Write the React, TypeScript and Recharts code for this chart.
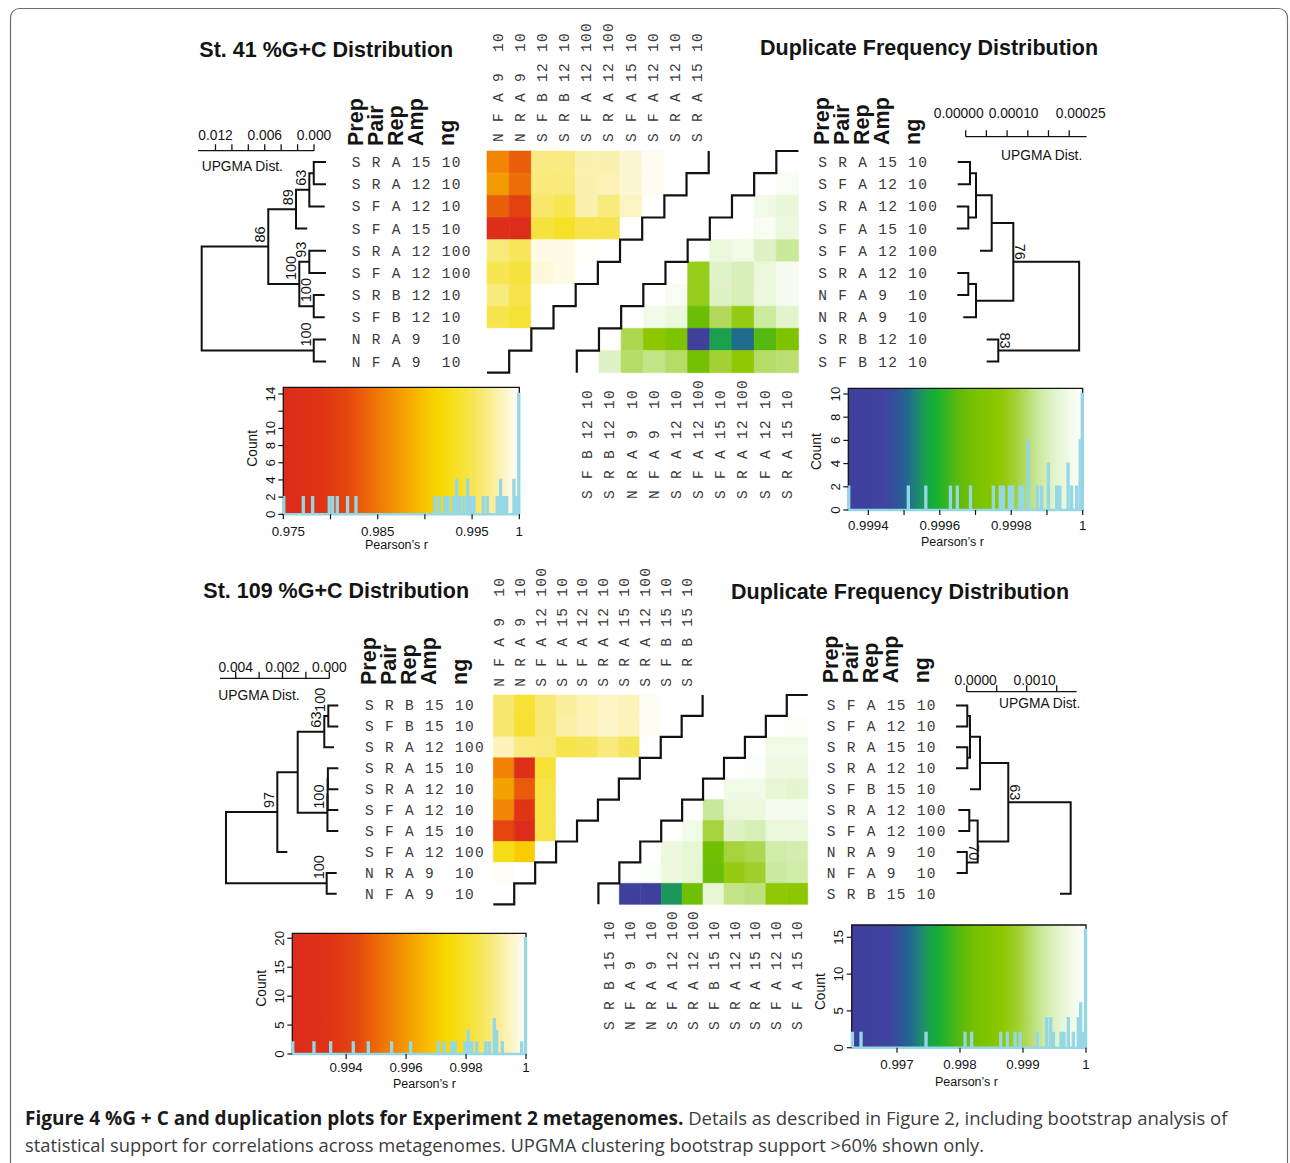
import React from 'react';
import { ComposedChart, Line, XAxis, YAxis, ReferenceArea, Scatter } from 'recharts';

const PAGE_W = 1290;
const PAGE_H = 1163;
const SANS = '"Liberation Sans", Arial, Helvetica, sans-serif';
const MONO = '"Liberation Mono", "Courier New", monospace';
const CAPTION_FONT = '"Open Sans", "Noto Sans", sans-serif';
const INK = '#141414';
const HIST_LINE = '#95d7e5';

// ---------------- colour ramps ----------------
const heatStops: [number, string][] = [
  [0, '#dc2c1c'], [0.15, '#df3216'], [0.28, '#e5480e'], [0.4, '#ef7806'], [0.5, '#f59e02'],
  [0.58, '#f8bc00'], [0.66, '#f8d800'], [0.74, '#f6e028'], [0.82, '#f7e660'], [0.89, '#faee9c'],
  [0.95, '#fdf6d0'], [1, '#ffffff'],
];
const greenStops: [number, string][] = [
  [0, '#3f3f9c'], [0.15, '#3f42a0'], [0.2, '#34509a'], [0.25, '#1f6890'], [0.29, '#1f8478'],
  [0.33, '#1aa04e'], [0.37, '#14b034'], [0.45, '#50b814'], [0.52, '#74c000'], [0.65, '#8ec800'],
  [0.72, '#a6d23c'], [0.8, '#c6e692'], [0.88, '#e2f4cc'], [1, '#ffffff'],
];

// ---------------- St. 41 %G+C ----------------
const st41GcRows = [
  ['S', 'R', 'A', '15', '10'], ['S', 'R', 'A', '12', '10'], ['S', 'F', 'A', '12', '10'], ['S', 'F', 'A', '15', '10'],
  ['S', 'R', 'A', '12', '100'], ['S', 'F', 'A', '12', '100'], ['S', 'R', 'B', '12', '10'], ['S', 'F', 'B', '12', '10'],
  ['N', 'R', 'A', '9', '10'], ['N', 'F', 'A', '9', '10'],
];
const st41GcMatrix = [
  [0.9858, 0.9833, 0.9965, 0.9965, 0.9978, 0.9978, 0.9988, 0.9996, 1, 1],
  [0.9873, 0.9843, 0.9963, 0.9963, 0.9978, 0.998, 0.9988, 0.9996, 1],
  [0.9835, 0.981, 0.9958, 0.995, 0.9978, 0.9963, 0.9983, 1],
  [0.9763, 0.975, 0.9943, 0.9935, 0.9948, 0.9948, 1],
  [0.9963, 0.9953, 0.9993, 0.9993, 0.9998, 1],
  [0.995, 0.9943, 0.999, 0.9993, 1],
  [0.9963, 0.9948, 1, 1],
  [0.9948, 0.994, 1],
  [1, 1],
  [1],
];
const st41GcTips = [-0.00146, -0.00146, -0.0013, 0.00082, -0.00146, -0.00146, -0.0013, -0.0013, -0.00146, -0.00146];
const st41GcMerges: [number, number, number, number | null][] = [
  [-1, -2, 0.00003, null], [-7, -8, 0.00003, 100], [-9, -10, 0.00003, 100], [1, -3, 0.00057, 63],
  [-5, -6, 0.00057, 93], [5, 2, 0.00179, 100], [4, -4, 0.00219, 89], [7, 6, 0.00557, 86], [8, 3, 0.01368, null],
];
const st41GcScaleTicks = [0, 0.002, 0.004, 0.006, 0.008, 0.01, 0.012];
const st41GcScaleLabels = ['0.000', '', '', '0.006', '', '', '0.012'];
const st41GcHistLow = 0.975;
const st41GcHist: [number, number][] = [
  [0.975, 2], [0.97712, 2], [0.97811, 2], [0.97987, 2], [0.98023, 2], [0.98072, 2], [0.98181, 2], [0.9827, 2],
  [0.99106, 2], [0.99152, 2], [0.99212, 2], [0.99247, 2], [0.99301, 2], [0.99336, 4], [0.99371, 2], [0.99413, 2],
  [0.99452, 4], [0.99484, 2], [0.99519, 2], [0.99618, 2], [0.9966, 2], [0.99766, 2], [0.99802, 4], [0.99837, 2],
  [0.99866, 2], [0.99943, 4], [0.99978, 2], [1, 14],
];
const st41GcXTicks = [0.975, 0.98, 0.985, 0.99, 0.995, 1];
const st41GcXLabels = ['0.975', '', '0.985', '', '0.995', '1'];
const st41GcYTicks = [0, 2, 4, 6, 8, 10, 12, 14];
const st41GcYLabels = ['0', '2', '4', '6', '8', '10', '', '14'];

// ---------------- St. 41 duplicate frequency ----------------
const st41DupRows = [
  ['S', 'R', 'A', '15', '10'], ['S', 'F', 'A', '12', '10'], ['S', 'R', 'A', '12', '100'], ['S', 'F', 'A', '15', '10'],
  ['S', 'F', 'A', '12', '100'], ['S', 'R', 'A', '12', '10'], ['N', 'F', 'A', '9', '10'], ['N', 'R', 'A', '9', '10'],
  ['S', 'R', 'B', '12', '10'], ['S', 'F', 'B', '12', '10'],
];
const st41DupMatrix = [
  [1],
  [1, 0.99998],
  [1, 0.999961, 0.999941],
  [1, 1, 0.99998, 0.999948],
  [1, 0.999944, 0.999961, 0.999915, 0.999875],
  [1, 0.99979, 0.999918, 0.999902, 0.999944, 0.999974],
  [1, 0.99998, 0.99979, 0.999915, 0.999902, 0.999948, 0.999974],
  [1, 0.999961, 0.999948, 0.999672, 0.999836, 0.999784, 0.999882, 0.999921],
  [1, 0.999829, 0.999764, 0.999718, 0.99935, 0.999561, 0.999512, 0.999646, 0.999718],
  [1, 0.999915, 0.999843, 0.999862, 0.999843, 0.999685, 0.99981, 0.99977, 0.999843, 0.999849],
];
const st41DupTips = [-0.0000193, -0.0000193, -0.0000217, -0.0000217, 0.0000345, -0.0000203, -0.0000203, -0.0000058, 0.0000507, 0.0000507];
const st41DupMerges: [number, number, number, number | null][] = [
  [-1, -2, 0.0000104, null], [-3, -4, 0.0000063, null], [-6, -7, 0.0000063, null], [1, 2, 0.0000249, null],
  [3, -8, 0.0000249, null], [4, -5, 0.0000628, null], [-9, -10, 0.0000787, 83], [6, 5, 0.000115, 76], [8, 7, 0.000274, null],
];
const st41DupScaleTicks = [0, 0.00005, 0.0001, 0.00015, 0.0002, 0.00025];
const st41DupScaleLabels = ['0.00000', '', '0.00010', '', '', '0.00025'];
const st41DupHistLow = 0.999344;
const st41DupHist: [number, number][] = [
  [0.999344, 2], [0.999512, 2], [0.999561, 2], [0.99963, 2], [0.999649, 2], [0.999686, 2], [0.99975, 2], [0.999769, 2],
  [0.999778, 2], [0.999795, 2], [0.999804, 2], [0.999824, 2], [0.999832, 2], [0.999848, 6], [0.999873, 2], [0.999885, 2],
  [0.999904, 4], [0.999927, 2], [0.999936, 2], [0.999959, 4], [0.999969, 2], [0.999983, 2], [0.999993, 6], [1, 10],
];
const st41DupXTicks = [0.9994, 0.9995, 0.9996, 0.9997, 0.9998, 0.9999, 1];
const st41DupXLabels = ['0.9994', '', '0.9996', '', '0.9998', '', '1'];
const st41DupYTicks = [0, 2, 4, 6, 8, 10];
const st41DupYLabels = ['0', '2', '4', '6', '8', '10'];

// ---------------- St. 109 %G+C ----------------
const st109GcRows = [
  ['S', 'R', 'B', '15', '10'], ['S', 'F', 'B', '15', '10'], ['S', 'R', 'A', '12', '100'], ['S', 'R', 'A', '15', '10'],
  ['S', 'R', 'A', '12', '10'], ['S', 'F', 'A', '12', '10'], ['S', 'F', 'A', '15', '10'], ['S', 'F', 'A', '12', '100'],
  ['N', 'R', 'A', '9', '10'], ['N', 'F', 'A', '9', '10'],
];
const st109GcMatrix = [
  [0.998753, 0.998129, 0.998792, 0.999143, 0.999376, 0.999493, 0.999415, 0.999883, 1, 1],
  [0.998753, 0.99809, 0.998792, 0.99922, 0.999415, 0.999532, 0.999415, 0.999883, 1],
  [0.999415, 0.998909, 0.99883, 0.998363, 0.998519, 0.99887, 0.998519, 1],
  [0.99552, 0.99293, 0.99813, 1, 1, 1, 1],
  [0.99615, 0.99474, 0.998285, 1, 1, 1],
  [0.9956, 0.99348, 0.998285, 1, 1],
  [0.99424, 0.99221, 0.998285, 1],
  [0.997739, 0.99708, 1],
  [0.999922, 1],
  [1],
];
const st109GcTips = [-0.000385, -0.000385, -0.000201, -0.000385, -0.000385, -0.000385, -0.000385, 0.001795, -0.000316, -0.000316];
const st109GcMerges: [number, number, number, number | null][] = [
  [-1, -2, 0.0000427, 100], [1, -3, 0.000214, 63], [-4, -5, 0.00006, null], [3, -6, 0.00007, null],
  [4, -7, 0.00008, 100], [2, 5, 0.00135, null], [6, -8, 0.002222, 97], [-9, -10, 0.000111, 100], [7, 8, 0.004415, null],
];
const st109GcScaleTicks = [0, 0.001, 0.002, 0.003, 0.004];
const st109GcScaleLabels = ['0.000', '', '0.002', '', '0.004'];
const st109GcHistLow = 0.992204;
const st109GcHist: [number, number][] = [
  [0.992204, 2], [0.992927, 2], [0.993483, 2], [0.994239, 2], [0.99474, 2], [0.995518, 2], [0.996152, 2], [0.997075, 2],
  [0.997264, 2], [0.99752, 2], [0.997631, 2], [0.997965, 2], [0.998076, 4], [0.998187, 2], [0.998354, 2], [0.998654, 2],
  [0.998776, 2], [0.998943, 6], [0.999021, 4], [0.99921, 2], [0.999855, 2], [1, 20],
];
const st109GcXTicks = [0.994, 0.996, 0.998, 1];
const st109GcXLabels = ['0.994', '0.996', '0.998', '1'];
const st109GcYTicks = [0, 5, 10, 15, 20];
const st109GcYLabels = ['0', '5', '10', '15', '20'];

// ---------------- St. 109 duplicate frequency ----------------
const st109DupRows = [
  ['S', 'F', 'A', '15', '10'], ['S', 'F', 'A', '12', '10'], ['S', 'R', 'A', '15', '10'], ['S', 'R', 'A', '12', '10'],
  ['S', 'F', 'B', '15', '10'], ['S', 'R', 'A', '12', '100'], ['S', 'F', 'A', '12', '100'], ['N', 'R', 'A', '9', '10'],
  ['N', 'F', 'A', '9', '10'], ['S', 'R', 'B', '15', '10'],
];
const st109DupMatrix = [
  [1],
  [1, 0.99995],
  [1, 0.999777, 0.999777],
  [1, 0.99995, 0.99974, 0.99974],
  [1, 0.999777, 0.999777, 0.999628, 0.999591],
  [1, 0.999293, 0.999684, 0.999684, 0.999851, 0.999851],
  [1, 0.999777, 0.998959, 0.999516, 0.999442, 0.999684, 0.999684],
  [1, 0.999721, 0.999628, 0.998178, 0.998959, 0.999033, 0.999368, 0.999405],
  [1, 0.99995, 0.999721, 0.999628, 0.998141, 0.998773, 0.998884, 0.99933, 0.999368],
  [1, 0.99629, 0.99643, 0.99746, 0.998178, 0.999628, 0.999219, 0.999182, 0.998698, 0.998661],
];
const st109DupTips = [-0.000178, -0.000178, -0.000178, -0.000178, 0.000055, -0.00014, -0.00014, -0.000167, -0.000167, 0.001555];
const st109DupMerges: [number, number, number, number | null][] = [
  [-1, -2, 0.00001, null], [-3, -4, 0.00001, null], [-8, -9, 0.000002, 70], [-6, -7, 0.000043, null],
  [1, 2, 0.000055, null], [5, -5, 0.000222, null], [4, 3, 0.000183, null], [6, 7, 0.000693, 63], [8, -10, 0.001733, null],
];
const st109DupScaleTicks = [0, 0.0005, 0.001, 0.0015];
const st109DupScaleLabels = ['0.0000', '', '0.0010', ''];
const st109DupHistLow = 0.996281;
const st109DupHist: [number, number][] = [
  [0.996292, 2], [0.996429, 2], [0.997461, 2], [0.99808, 2], [0.998185, 2], [0.998646, 2], [0.998751, 2], [0.998873, 2],
  [0.998953, 2], [0.999228, 2], [0.999376, 4], [0.999439, 4], [0.999482, 2], [0.999604, 2], [0.999651, 2], [0.99972, 4],
  [0.999799, 2], [0.999878, 4], [0.999915, 6], [0.999958, 2], [1, 16],
];
const st109DupXTicks = [0.997, 0.998, 0.999, 1];
const st109DupXLabels = ['0.997', '0.998', '0.999', '1'];
const st109DupYTicks = [0, 5, 10, 15];
const st109DupYLabels = ['0', '5', '10', '15'];

const HEADERS = ['Prep', 'Pair', 'Rep', 'Amp', 'ng'];

// ---------------- layout (pixel geometry) ----------------
const TOP = {
  rowTop: 151, rowH: 22.17, cellW: 22.17, leftX: 487, rightX: 576.8,
  leftLabelX: 351.7, rightLabelX: 818.3, leftColY: 142, rightColY: 499, leftColOff: 4.5, rightColOff: 4.4,
  leftHeadY: 146, rightHeadY: 145,
};
const BOTTOM = {
  rowTop: 695, rowH: 20.93, cellW: 20.93, leftX: 493.3, rightX: 598.4,
  leftLabelX: 365, rightLabelX: 826.7, leftColY: 686.7, rightColY: 1030, leftColOff: 0, rightColOff: 5.1,
  leftHeadY: 685, rightHeadY: 683.3,
};

// ---------------- helpers ----------------
function hexToRgb(h: string) {
  const n = parseInt(h.slice(1), 16);
  return [(n >> 16) & 255, (n >> 8) & 255, n & 255];
}
function rampColor(stops: [number, string][], t: number) {
  const u = Math.max(0, Math.min(1, t));
  for (let s = 1; s < stops.length; s++) {
    if (u <= stops[s][0]) {
      const [t0, c0] = stops[s - 1];
      const [t1, c1] = stops[s];
      const f = (u - t0) / (t1 - t0 || 1);
      const a = hexToRgb(c0);
      const b = hexToRgb(c1);
      return `rgb(${a.map((v, i) => Math.round(v + (b[i] - v) * f)).join(',')})`;
    }
  }
  return stops[stops.length - 1][1];
}
function fmtLabel(f: string[]) {
  return `${f[0]} ${f[1]} ${f[2]} ${f[3].padEnd(2, ' ')} ${f[4]}`;
}
function histSteps(spikes: [number, number][], lo: number) {
  const bw = (1 - lo) / 260;
  const pts: { x: number; y: number }[] = [{ x: lo, y: 0 }];
  spikes.forEach(([r, c]) => {
    let a = r - bw / 2;
    let b = r + bw / 2;
    if (a < lo) { a = lo; b = lo + bw; }
    if (b > 1) { b = 1; a = 1 - bw; }
    pts.push({ x: a, y: 0 }, { x: a, y: c }, { x: b, y: c }, { x: b, y: 0 });
  });
  pts.push({ x: 1, y: 0 });
  return pts;
}

const Abs = ({ children }: { children: React.ReactNode }) => (
  <div style={{ position: 'absolute', left: 0, top: 0, width: PAGE_W, height: PAGE_H }}>{children}</div>
);

const monoText = { fontFamily: MONO, fontSize: 14.5, letterSpacing: 1.3, fill: '#3a3a3a' } as const;

// ---------------- heatmap triangle ----------------
function Heatmap({ rows, matrix, side, geom, lo, stops }: any) {
  const n = rows.length;
  const x0 = side === 'left' ? geom.leftX : geom.rightX;
  const box = { l: x0, r: x0 + n * geom.cellW, t: geom.rowTop, b: geom.rowTop + n * geom.rowH };
  const cells: { i: number; col: number; v: number }[] = [];
  matrix.forEach((row: number[], i: number) =>
    row.forEach((v: number, j: number) => {
      const col = side === 'left' ? j : n - 1 - i + j;
      cells.push({ i, col, v });
    }),
  );
  const stair: { x: number; y: number }[] = [];
  if (side === 'left') {
    stair.push({ x: 0, y: n });
    for (let k = 1; k <= n; k++) stair.push({ x: k, y: n + 1 - k }, { x: k, y: n - k });
  } else {
    for (let k = 0; k < n; k++) stair.push({ x: k, y: n - k }, { x: k, y: n - 1 - k });
    stair.push({ x: n, y: 0 });
  }
  const rowLabels = rows.map(fmtLabel);
  const colLabels = rows.map(fmtLabel).reverse();
  const centers = Array.from({ length: n }, (_, i) => i + 0.5);
  const AX = 10;
  const margin =
    side === 'left'
      ? { left: box.l - AX, right: PAGE_W - box.r, top: box.t - AX, bottom: PAGE_H - box.b }
      : { left: box.l, right: PAGE_W - box.r - AX, top: box.t, bottom: PAGE_H - box.b - AX };
  const colY = side === 'left' ? geom.leftColY : geom.rightColY;
  const colOff = side === 'left' ? geom.leftColOff : geom.rightColOff;
  const labelX = side === 'left' ? geom.leftLabelX : geom.rightLabelX;
  const colTick = (p: any) => {
    const c = Math.floor(p.payload.value);
    return (
      <text transform={`translate(${p.x + colOff},${colY}) rotate(-90)`} textAnchor="start" {...monoText}
        xmlSpace="preserve" style={{ whiteSpace: 'pre' }}>{colLabels[c]}</text>
    );
  };
  const rowTick = (p: any) => {
    const r = Math.floor(p.payload.value);
    return (
      <text x={labelX} y={p.y + 5} textAnchor="start" {...monoText} xmlSpace="preserve" style={{ whiteSpace: 'pre' }}>
        {rowLabels[r]}
      </text>
    );
  };
  return (
    <Abs>
      <ComposedChart width={PAGE_W} height={PAGE_H} margin={margin}>
        <XAxis type="number" dataKey="x" domain={[0, n]} ticks={centers} interval={0}
          orientation={side === 'left' ? 'top' : 'bottom'} height={AX} axisLine={false} tickLine={false} tick={colTick} />
        <YAxis type="number" dataKey="y" domain={[0, n]} reversed ticks={centers} interval={0}
          orientation={side === 'left' ? 'left' : 'right'} width={AX} axisLine={false} tickLine={false} tick={rowTick} />
        {cells.map((c) => {
          const col = rampColor(stops, (c.v - lo) / (1 - lo));
          return (
            <ReferenceArea key={`c${c.i}-${c.col}`} x1={c.col} x2={c.col + 1} y1={c.i} y2={c.i + 1}
              fill={col} fillOpacity={1} stroke={col} strokeWidth={0.6} ifOverflow="visible" />
          );
        })}
        <Line data={stair} dataKey="y" type="linear" stroke="#111" strokeWidth={2.2} dot={false}
          isAnimationActive={false} strokeLinejoin="miter" />
      </ComposedChart>
    </Abs>
  );
}

// ---------------- UPGMA tree ----------------
function Tree({ tips, merges, geom, tg }: any) {
  const n = tips.length;
  const { P0, k, dir, xl, xr } = tg;
  const dl = (dir * (xl - P0)) / k;
  const dr = (dir * (xr - P0)) / k;
  const nodeH: number[] = [];
  const nodeY: number[] = [];
  const child = (c: number) => (c < 0 ? { h: tips[-c - 1], y: -c - 1 + 0.5 } : { h: nodeH[c - 1], y: nodeY[c - 1] });
  const segs: { x: number; y: number }[][] = [];
  const labels: { x: number; y: number; label: string }[] = [];
  merges.forEach(([a, b, h, boot]: any, m: number) => {
    const A = child(a);
    const B = child(b);
    nodeH[m] = h;
    nodeY[m] = (A.y + B.y) / 2;
    segs.push([{ x: A.h, y: A.y }, { x: h, y: A.y }, { x: h, y: B.y }, { x: B.h, y: B.y }]);
    if (boot != null) labels.push({ x: h, y: nodeY[m], label: String(boot) });
  });
  const box = { l: xl, r: xr, t: geom.rowTop, b: geom.rowTop + n * geom.rowH };
  const margin = { left: box.l, right: PAGE_W - box.r, top: box.t, bottom: PAGE_H - box.b };
  const shape = (p: any) => {
    const { cx, cy, payload } = p;
    if (dir < 0) {
      return (
        <text transform={`translate(${cx - 3},${cy - 4}) rotate(-90)`} textAnchor="start" fontFamily={SANS}
          fontSize={14.5} fill={INK}>{payload.label}</text>
      );
    }
    return (
      <text transform={`translate(${cx + 2},${cy - 2}) rotate(90)`} textAnchor="end" fontFamily={SANS}
        fontSize={14.5} fill={INK}>{payload.label}</text>
    );
  };
  return (
    <Abs>
      <ComposedChart width={PAGE_W} height={PAGE_H} margin={margin}>
        <XAxis type="number" dataKey="x" hide domain={[Math.min(dl, dr), Math.max(dl, dr)]} reversed={dir < 0} />
        <YAxis type="number" dataKey="y" hide domain={[0, n]} reversed />
        {segs.map((s, i) => (
          <Line key={`s${i}`} data={s} dataKey="y" type="linear" stroke="#111" strokeWidth={2} dot={false}
            isAnimationActive={false} strokeLinejoin="miter" strokeLinecap="butt" />
        ))}
        <Scatter data={labels} isAnimationActive={false} shape={shape} />
      </ComposedChart>
    </Abs>
  );
}

// ---------------- distance scale bar ----------------
function ScaleBar({ tg, sb, ticks, labels }: any) {
  const { P0, k, dir } = tg;
  const { barLen, axisY, labelY, labelDx } = sb;
  const l = dir < 0 ? P0 - barLen * k : P0;
  const r = dir < 0 ? P0 : P0 + barLen * k;
  const XH = 20;
  const margin = { left: l, right: PAGE_W - r, top: axisY - XH, bottom: PAGE_H - axisY - 2 };
  const tick = (p: any) => {
    const idx = ticks.findIndex((t: number) => Math.abs(t - p.payload.value) < 1e-12);
    const lab = idx >= 0 ? labels[idx] : '';
    if (!lab) return <g />;
    const dx = labelDx ? labelDx[idx] : 0;
    return (
      <text x={p.x + dx} y={labelY} textAnchor="middle" fontFamily={SANS} fontSize={13.8} fill={INK}>{lab}</text>
    );
  };
  return (
    <Abs>
      <ComposedChart width={PAGE_W} height={PAGE_H} margin={margin}>
        <XAxis type="number" dataKey="x" domain={[0, barLen]} reversed={dir < 0} orientation="top" height={XH}
          ticks={ticks} interval={0} axisLine={{ stroke: INK, strokeWidth: 1.3 }} tickLine={{ stroke: INK, strokeWidth: 1.3 }}
          tickSize={6.5} tick={tick} />
        <YAxis type="number" dataKey="y" hide domain={[0, 1]} />
        <Line data={[{ x: 0, y: 0.5 }, { x: barLen, y: 0.5 }]} dataKey="y" stroke="none" dot={false} isAnimationActive={false} />
      </ComposedChart>
    </Abs>
  );
}

// ---------------- histogram with colour key ----------------
function Histogram({ spikes, lo, hb, stops, xticks, xlabels, yticks, ylabels, gid }: any) {
  const YW = 10;
  const XH = 10;
  const margin = { left: hb.l - YW, right: PAGE_W - hb.r, top: hb.t, bottom: PAGE_H - hb.b - XH };
  const steps = histSteps(spikes, lo);
  const xTick = (p: any) => {
    const idx = xticks.findIndex((t: number) => Math.abs(t - p.payload.value) < 1e-12);
    const lab = idx >= 0 ? xlabels[idx] : '';
    if (!lab) return <g />;
    const dx = idx === 0 && hb.firstDx ? hb.firstDx : 0;
    return <text x={p.x + dx} y={hb.xLabelY} textAnchor="middle" fontFamily={SANS} fontSize={13.3} fill={INK}>{lab}</text>;
  };
  const yTick = (p: any) => {
    const idx = yticks.findIndex((t: number) => Math.abs(t - p.payload.value) < 1e-12);
    const lab = idx >= 0 ? ylabels[idx] : '';
    if (!lab) return <g />;
    return (
      <text transform={`translate(${hb.l - 8.5},${p.y}) rotate(-90)`} textAnchor="middle" fontFamily={SANS}
        fontSize={13.3} fill={INK}>{lab}</text>
    );
  };
  return (
    <Abs>
      <ComposedChart width={PAGE_W} height={PAGE_H} margin={margin}>
        <defs>
          <linearGradient id={gid} x1="0" y1="0" x2="1" y2="0">
            {stops.map(([o, c]: [number, string], i: number) => (
              <stop key={i} offset={o} stopColor={c} />
            ))}
          </linearGradient>
        </defs>
        <XAxis type="number" dataKey="x" domain={[lo, 1]} ticks={xticks} interval={0} height={XH} axisLine={false}
          tickLine={{ stroke: INK, strokeWidth: 1.2 }} tickSize={5} tick={xTick} />
        <YAxis type="number" dataKey="y" domain={[0, hb.yMax]} ticks={yticks} interval={0} width={YW} axisLine={false}
          tickLine={{ stroke: INK, strokeWidth: 1.2 }} tickSize={5} tick={yTick} />
        <ReferenceArea x1={lo} x2={1} y1={0} y2={hb.yMax} fill={`url(#${gid})`} fillOpacity={1} stroke={INK}
          strokeWidth={1.3} ifOverflow="visible" />
        <Line data={steps} dataKey="y" type="linear" stroke={HIST_LINE} strokeWidth={2.4} dot={false}
          isAnimationActive={false} strokeLinejoin="miter" />
      </ComposedChart>
    </Abs>
  );
}

// ---------------- panel-level geometry ----------------
const TREES = {
  tl: { P0: 314, k: 8210, dir: -1, xl: 195, xr: 335 },
  tr: { P0: 965.7, k: 414000, dir: 1, xl: 945, xr: 1095 },
  bl: { P0: 329.3, k: 23400, dir: -1, xl: 210, xr: 350 },
  br: { P0: 966.7, k: 60000, dir: 1, xl: 945, xr: 1085 },
};
const SCALES = {
  tl: { barLen: 0.01412, axisY: 150.7, labelY: 140, textX: 201.7, textY: 171, labelDx: null },
  tr: { barLen: 0.000292, axisY: 136.7, labelY: 117.5, textX: 1001, textY: 159.5, labelDx: [-7, 0, 6.5, 0, 0, 11.5] },
  bl: { barLen: 0.00467, axisY: 678.3, labelY: 671.5, textX: 218.3, textY: 700, labelDx: null },
  br: { barLen: 0.001833, axisY: 691.7, labelY: 685, textX: 999, textY: 708, labelDx: [9, 0, 8, 0] },
};
const HISTS = {
  tl: { l: 283.3, r: 519.3, t: 387.3, b: 514.3, yMax: 14.78, xLabelY: 535.5, countX: 256.7, countY: 448.3, pearX: 396.5, pearY: 549, firstDx: 5 },
  tr: { l: 848.3, r: 1082.7, t: 388.3, b: 510, yMax: 10.49, xLabelY: 530, countX: 820.7, countY: 451.7, pearX: 952.5, pearY: 545.7, firstDx: 0 },
  bl: { l: 292.3, r: 526, t: 933.3, b: 1054, yMax: 20.86, xLabelY: 1072, countX: 266, countY: 988.3, pearX: 424.5, pearY: 1088.3, firstDx: 0 },
  br: { l: 851.7, r: 1086, t: 925, b: 1047.7, yMax: 16.67, xLabelY: 1069, countX: 825, countY: 991.7, pearX: 966.5, pearY: 1085.7, firstDx: 0 },
};
const HEAD_OFF = [11, 31, 51, 71, 102];

function Headers({ x0, y }: { x0: number; y: number }) {
  return (
    <g>
      {HEADERS.map((h, i) => (
        <text key={h} transform={`translate(${x0 + HEAD_OFF[i]},${y}) rotate(-90)`} textAnchor="start"
          fontFamily={SANS} fontWeight={700} fontSize={21.5} fill={INK}>{h}</text>
      ))}
    </g>
  );
}

function StaticLayer() {
  const titleStyle = { fontFamily: SANS, fontWeight: 700, fontSize: 21.5, fill: INK } as const;
  const small = { fontFamily: SANS, fontSize: 13.8, fill: INK } as const;
  const hs = [HISTS.tl, HISTS.tr, HISTS.bl, HISTS.br];
  const ss = [SCALES.tl, SCALES.tr, SCALES.bl, SCALES.br];
  return (
    <svg width={PAGE_W} height={PAGE_H} style={{ position: 'absolute', left: 0, top: 0 }}>
      <rect x={10.5} y={8.5} width={1277} height={1220} rx={9} fill="none" stroke="#6e6e6e" strokeWidth={1.2} />
      <text x={199.3} y={57.3} {...titleStyle}>St. 41 %G+C Distribution</text>
      <text x={760} y={55} {...titleStyle}>Duplicate Frequency Distribution</text>
      <text x={203.3} y={597.5} {...titleStyle}>St. 109 %G+C Distribution</text>
      <text x={731} y={598.5} {...titleStyle}>Duplicate Frequency Distribution</text>
      <Headers x0={TOP.leftLabelX} y={TOP.leftHeadY} />
      <Headers x0={TOP.rightLabelX} y={TOP.rightHeadY} />
      <Headers x0={BOTTOM.leftLabelX} y={BOTTOM.leftHeadY} />
      <Headers x0={BOTTOM.rightLabelX} y={BOTTOM.rightHeadY} />
      {ss.map((s, i) => (
        <text key={`u${i}`} x={s.textX} y={s.textY} {...small}>UPGMA Dist.</text>
      ))}
      {hs.map((h, i) => (
        <g key={`h${i}`}>
          <text transform={`translate(${h.countX},${h.countY}) rotate(-90)`} textAnchor="middle" {...small}>Count</text>
          <text x={h.pearX} y={h.pearY} textAnchor="middle" fontFamily={SANS} fontSize={12.5} fill={INK}>Pearson’s r</text>
        </g>
      ))}
      <text x={25} y={1125} fontFamily={CAPTION_FONT} fill="#3c3c3c">
        <tspan fontWeight={700} fontSize={19} fill="#1a1a1a">Figure 4 %G + C and duplication plots for Experiment 2 metagenomes.</tspan>
        <tspan fontSize={18.5}> Details as described in Figure 2, including bootstrap analysis of</tspan>
      </text>
      <text x={25} y={1152} fontFamily={CAPTION_FONT} fontSize={18.35} fill="#3c3c3c">
        statistical support for correlations across metagenomes. UPGMA clustering bootstrap support &gt;60% shown only.
      </text>
    </svg>
  );
}

export default function App() {
  return (
    <div style={{ position: 'absolute', left: 0, top: 0, width: PAGE_W, height: PAGE_H, background: '#fff', overflow: 'hidden' }}>
      <StaticLayer />
      {/* St. 41 */}
      <Heatmap rows={st41GcRows} matrix={st41GcMatrix} side="left" geom={TOP} lo={st41GcHistLow} stops={heatStops} />
      <Heatmap rows={st41DupRows} matrix={st41DupMatrix} side="right" geom={TOP} lo={st41DupHistLow} stops={greenStops} />
      <Tree tips={st41GcTips} merges={st41GcMerges} geom={TOP} tg={TREES.tl} />
      <Tree tips={st41DupTips} merges={st41DupMerges} geom={TOP} tg={TREES.tr} />
      <ScaleBar tg={TREES.tl} sb={SCALES.tl} ticks={st41GcScaleTicks} labels={st41GcScaleLabels} />
      <ScaleBar tg={TREES.tr} sb={SCALES.tr} ticks={st41DupScaleTicks} labels={st41DupScaleLabels} />
      <Histogram spikes={st41GcHist} lo={st41GcHistLow} hb={HISTS.tl} stops={heatStops} xticks={st41GcXTicks}
        xlabels={st41GcXLabels} yticks={st41GcYTicks} ylabels={st41GcYLabels} gid="gTL" />
      <Histogram spikes={st41DupHist} lo={st41DupHistLow} hb={HISTS.tr} stops={greenStops} xticks={st41DupXTicks}
        xlabels={st41DupXLabels} yticks={st41DupYTicks} ylabels={st41DupYLabels} gid="gTR" />
      {/* St. 109 */}
      <Heatmap rows={st109GcRows} matrix={st109GcMatrix} side="left" geom={BOTTOM} lo={st109GcHistLow} stops={heatStops} />
      <Heatmap rows={st109DupRows} matrix={st109DupMatrix} side="right" geom={BOTTOM} lo={st109DupHistLow} stops={greenStops} />
      <Tree tips={st109GcTips} merges={st109GcMerges} geom={BOTTOM} tg={TREES.bl} />
      <Tree tips={st109DupTips} merges={st109DupMerges} geom={BOTTOM} tg={TREES.br} />
      <ScaleBar tg={TREES.bl} sb={SCALES.bl} ticks={st109GcScaleTicks} labels={st109GcScaleLabels} />
      <ScaleBar tg={TREES.br} sb={SCALES.br} ticks={st109DupScaleTicks} labels={st109DupScaleLabels} />
      <Histogram spikes={st109GcHist} lo={st109GcHistLow} hb={HISTS.bl} stops={heatStops} xticks={st109GcXTicks}
        xlabels={st109GcXLabels} yticks={st109GcYTicks} ylabels={st109GcYLabels} gid="gBL" />
      <Histogram spikes={st109DupHist} lo={st109DupHistLow} hb={HISTS.br} stops={greenStops} xticks={st109DupXTicks}
        xlabels={st109DupXLabels} yticks={st109DupYTicks} ylabels={st109DupYLabels} gid="gBR" />
    </div>
  );
}
